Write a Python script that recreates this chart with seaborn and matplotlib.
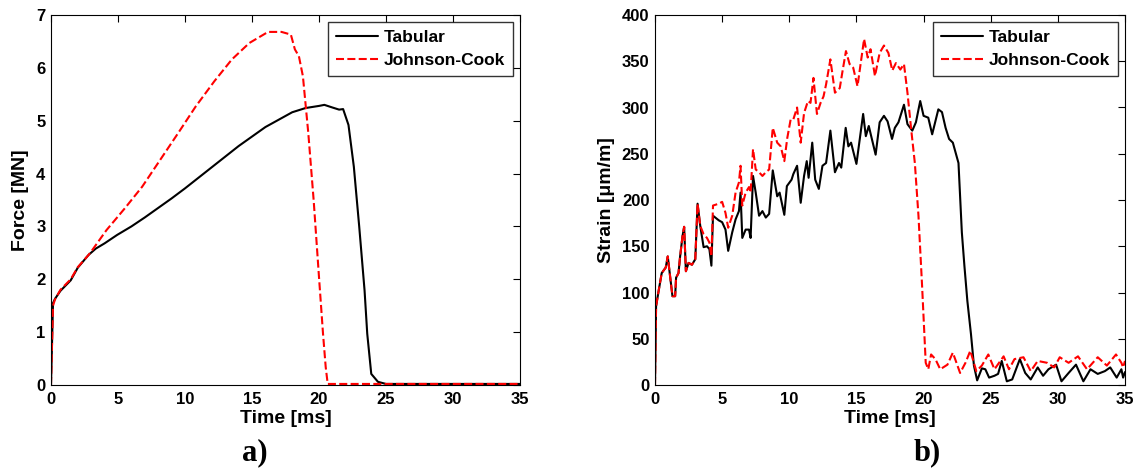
import numpy as np
import pandas as pd
import matplotlib
matplotlib.use("Agg")
import matplotlib.pyplot as plt
import seaborn as sns

# ----------------------
# data
# ----------------------
# a) force vs time
force_tab_t = [0, 0.15, 0.3, 0.7, 1.47, 2.0, 2.8, 3.34, 4.0, 4.94, 6.0, 7.0, 8.0, 9.0, 10.0,
               11.0, 12.0, 13.0, 14.0, 15.0, 16.0, 17.0, 18.0, 19.0, 20.0, 20.4, 21.0, 21.5,
               21.8, 22.2, 22.6, 23.0, 23.4, 23.6, 23.9, 24.4, 25.0, 35.0]
force_tab = [0, 1.55, 1.63, 1.78, 1.98, 2.22, 2.46, 2.58, 2.68, 2.84, 3.0, 3.17, 3.35, 3.53, 3.72,
             3.92, 4.12, 4.32, 4.52, 4.70, 4.88, 5.02, 5.16, 5.24, 5.28, 5.30, 5.25, 5.21,
             5.22, 4.92, 4.13, 3.0, 1.79, 0.97, 0.21, 0.06, 0.02, 0.02]

force_jc_t = [0, 0.15, 0.3, 0.7, 1.47, 2.0, 2.8, 3.07, 4.14, 5.5, 6.8, 8.15, 9.5, 10.8, 12.2,
              13.5, 14.8, 16.2, 17.2, 17.9, 18.2, 18.5, 18.8, 19.2, 19.6, 20.0, 20.3, 20.5,
              20.65, 35.0]
force_jc = [0, 1.5, 1.62, 1.8, 2.0, 2.23, 2.46, 2.55, 2.93, 3.34, 3.75, 4.26, 4.77, 5.27, 5.75,
            6.16, 6.47, 6.68, 6.68, 6.63, 6.35, 6.22, 5.84, 4.77, 3.5, 2.04, 0.97, 0.34,
            0.02, 0.02]

# b) strain vs time
early_t = [0, 0.08, 0.25, 0.5, 0.8, 0.95, 1.12, 1.3, 1.5, 1.57, 1.75, 1.87, 2.05, 2.17, 2.3,
           2.5, 2.75, 3.0, 3.17, 3.37, 3.62, 3.87, 4.05, 4.2, 4.32, 4.75, 5.0, 5.25, 5.45,
           5.75, 6.0, 6.25, 6.37, 6.5, 6.75, 7.0, 7.12, 7.3, 7.5, 7.75, 8.0, 8.25, 8.5]
strain_tab_early = [0, 85, 100, 121, 127, 139, 118, 96, 96, 116, 121, 139, 161, 171, 123,
                    132, 130, 136, 196, 172, 149, 150, 147, 129, 183, 178, 176, 168, 145,
                    165, 179, 188, 208, 159, 168, 168, 159, 226, 208, 183, 188, 181, 185]
strain_jc_early = [0, 85, 100, 121, 127, 139, 118, 96, 96, 116, 121, 139, 161, 171, 123,
                   132, 130, 136, 196, 172, 163, 159, 154, 139, 194, 196, 198, 186, 170,
                   183, 208, 219, 237, 194, 208, 214, 208, 255, 233, 230, 226, 230, 233]

strain_tab_late_t = [8.77, 9.1, 9.28, 9.63, 9.82, 10.17, 10.3, 10.58, 10.85, 11.1, 11.3, 11.44,
                     11.71, 11.93, 12.2, 12.47, 12.74, 13.06, 13.4, 13.7, 13.87, 14.2, 14.4,
                     14.6, 15.0, 15.5, 15.7, 15.92, 16.1, 16.43, 16.73, 17.05, 17.32, 17.65,
                     17.86, 18.13, 18.54, 18.8, 19.16, 19.43, 19.75, 20.0, 20.35, 20.64, 21.1,
                     21.37, 21.64, 21.9, 22.18, 22.6, 22.85, 23.04, 23.26, 23.53, 23.75, 23.99,
                     24.34, 24.6, 24.88, 25.28, 25.55, 25.82, 26.2, 26.6, 27.17, 27.57, 27.98,
                     28.5, 28.9, 29.3, 29.87, 30.27, 30.8, 31.35, 31.9, 32.43, 32.97, 33.5,
                     33.9, 34.38, 34.73, 34.86, 35.0]
strain_tab_late = [232, 204, 208, 184, 215, 222, 228, 237, 197, 226, 242, 224,
                   262, 222, 212, 237, 240, 275, 230, 240, 235, 278, 258,
                   262, 239, 293, 269, 280, 269, 249, 284, 291, 285, 266,
                   278, 284, 303, 282, 275, 284, 307, 291, 289, 271, 298,
                   295, 278, 266, 262, 240, 165, 129, 91, 55, 21, 5,
                   18, 17, 8, 10, 12, 26, 4, 6, 28, 13, 6,
                   19, 10, 17, 22, 4, 13, 22, 4, 17, 12, 15,
                   19, 8, 17, 8, 14]

strain_jc_late_t = [8.77, 9.1, 9.36, 9.63, 9.85, 10.1, 10.3, 10.58, 10.85, 11.1, 11.39, 11.58,
                    11.8, 12.06, 12.33, 12.55, 12.74, 13.06, 13.4, 13.76, 13.95, 14.22, 14.49,
                    14.76, 15.08, 15.57, 15.84, 16.05, 16.38, 16.73, 17.05, 17.38, 17.67,
                    17.94, 18.27, 18.54, 18.8, 19.08, 19.35, 19.62, 19.89, 20.16, 20.35,
                    20.56, 20.88, 21.24, 21.78, 22.18, 22.72, 23.12, 23.48, 23.93, 24.34,
                    24.82, 25.28, 25.96, 26.36, 26.77, 27.44, 27.98, 28.5, 29.2, 29.73,
                    30.14, 30.8, 31.5, 32.17, 32.97, 33.65, 34.33, 34.73, 34.86, 35.0]
strain_jc_late = [278, 262, 258, 242, 267, 287, 287, 300, 262, 294, 307, 305,
                  332, 293, 305, 312, 325, 352, 316, 321, 338, 361, 347,
                  343, 323, 374, 354, 363, 334, 359, 367, 359, 340,
                  348, 341, 347, 316, 276, 240, 183, 107, 24, 17,
                  33, 28, 17, 22, 35, 13, 24, 37, 15, 21,
                  33, 17, 31, 17, 28, 30, 15, 26, 24, 19,
                  30, 24, 31, 17, 30, 21, 33, 24, 19, 26]

labels = ["Tabular", "Johnson-Cook"]

# ----------------------
# style
# ----------------------
sns.set_style("white")
plt.rcParams["font.family"] = ["Liberation Sans", "DejaVu Sans"]
plt.rcParams["font.weight"] = "bold"
for k in ["text.color", "axes.labelcolor", "xtick.color", "ytick.color", "axes.edgecolor"]:
    plt.rcParams[k] = "black"

fig = plt.figure(figsize=(11.36, 4.69), dpi=100)
ax1 = fig.add_axes([51 / 1136, 84 / 469, 469 / 1136, 370 / 469])
ax2 = fig.add_axes([655 / 1136, 84 / 469, 470 / 1136, 370 / 469])


def draw(ax, t1, y1, t2, y2):
    d1 = pd.DataFrame({"t": t1, "y": y1})
    d2 = pd.DataFrame({"t": t2, "y": y2})
    sns.lineplot(data=d1, x="t", y="y", ax=ax, color="black", linewidth=1.5,
                 estimator=None, sort=False, label=labels[0])
    sns.lineplot(data=d2, x="t", y="y", ax=ax, color="#ff0000", linewidth=1.5,
                 linestyle=(0, (3.85, 1.6)), estimator=None, sort=False, label=labels[1])
    ax.set_xlim(0, 35)
    ax.set_xticks(range(0, 36, 5))
    ax.tick_params(direction="in", top=True, right=True, length=5, width=0.8,
                   labelsize=12)
    ax.tick_params(axis="x", pad=5)
    ax.tick_params(axis="y", pad=4)
    for lab in ax.get_xticklabels() + ax.get_yticklabels():
        lab.set_fontweight("bold")
    for s in ax.spines.values():
        s.set_color("black")
        s.set_linewidth(0.8)
    ax.set_xlabel("Time [ms]", fontsize=14, fontweight="bold", labelpad=2)
    leg = ax.legend(loc="upper right", bbox_to_anchor=(0.985, 0.981), borderaxespad=0,
                    fontsize=12.5, frameon=True, fancybox=False, handlelength=2.4,
                    handletextpad=0.35, borderpad=0.45, labelspacing=0.45)
    leg.get_frame().set_edgecolor("black")
    leg.get_frame().set_linewidth(1.0)
    for txt in leg.get_texts():
        txt.set_fontweight("bold")


draw(ax1, force_tab_t, force_tab, force_jc_t, force_jc)
ax1.set_ylim(0, 7)
ax1.set_yticks(range(0, 8))
ax1.set_ylabel("Force [MN]", fontsize=14, fontweight="bold", labelpad=5)

draw(ax2, early_t + strain_tab_late_t, strain_tab_early + strain_tab_late,
     early_t + strain_jc_late_t, strain_jc_early + strain_jc_late)
ax2.set_ylim(0, 400)
ax2.set_yticks(range(0, 401, 50))
ax2.set_ylabel("Strain [\u03bcm/m]", fontsize=14, fontweight="bold", labelpad=5)

fig.text(255 / 1136, 1 - 453 / 469, "a)", ha="center", va="center", fontsize=22,
         fontweight="bold", family="Liberation Serif")
fig.text(927 / 1136, 1 - 453 / 469, "b)", ha="center", va="center", fontsize=22,
         fontweight="bold", family="Liberation Serif")

fig.savefig("out.png", dpi=100)
